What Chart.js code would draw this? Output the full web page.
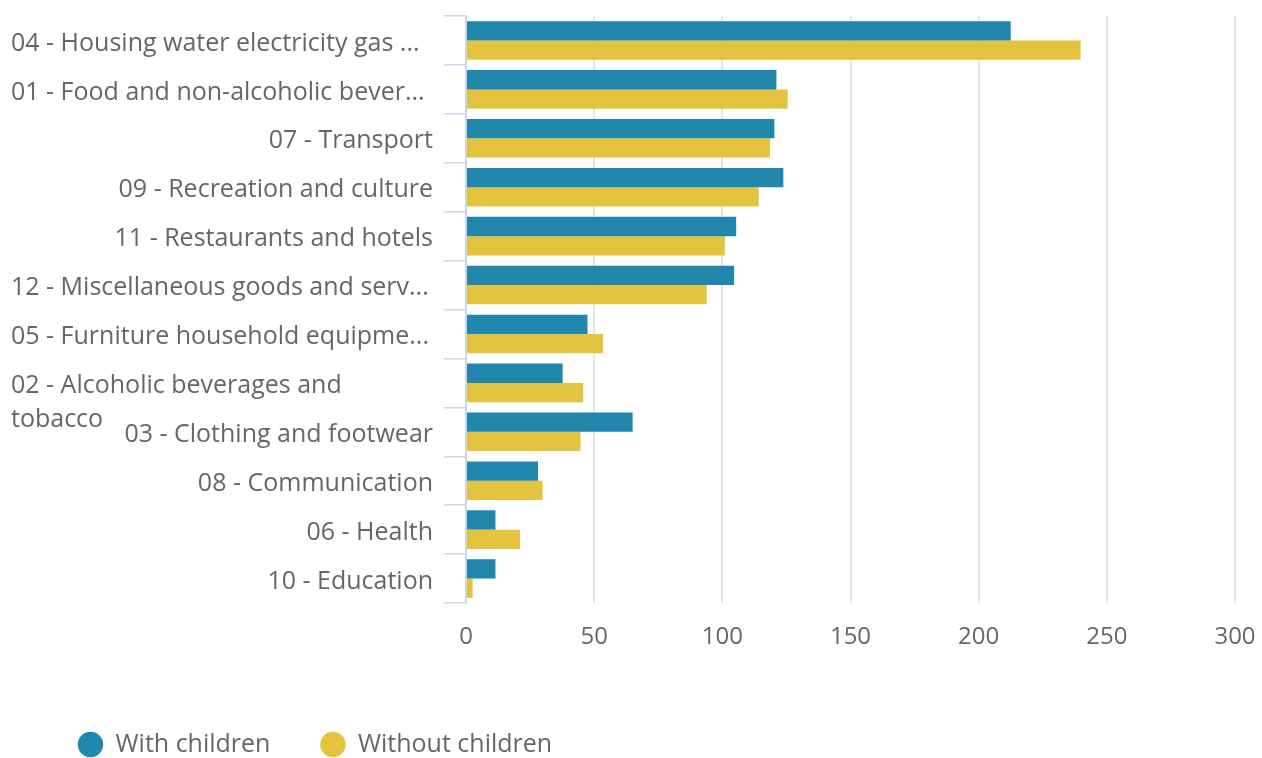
<!DOCTYPE html>
<html>
<head>
<meta charset="utf-8">
<script src="https://cdn.jsdelivr.net/npm/chart.js@4"></script>
<style>
  html, body { margin: 0; padding: 0; background: #fff; overflow: hidden; }
  #wrap { position: relative; width: 1262px; height: 767px; }
</style>
</head>
<body>
<div id="wrap"><canvas id="chart"></canvas></div>
<script>
const categories = [
  '04 - Housing water electricity gas ...',
  '01 - Food and non-alcoholic bever...',
  '07 - Transport',
  '09 - Recreation and culture',
  '11 - Restaurants and hotels',
  '12 - Miscellaneous goods and serv...',
  '05 - Furniture household equipme...',
  ['02 - Alcoholic beverages and', 'tobacco'],
  '03 - Clothing and footwear',
  '08 - Communication',
  '06 - Health',
  '10 - Education',
];
const withChildren    = [212.5, 121.1, 120.3, 123.8, 105.4, 104.6, 47.4, 37.7, 65.0, 28.1, 11.5, 11.5];
const withoutChildren = [239.8, 125.5, 118.6, 114.2, 101.0, 93.9, 53.5, 45.7, 44.7, 29.9, 21.1, 2.6];
const xTicks = [0, 50, 100, 150, 200, 250, 300];

const TEXT = '#666666';
Chart.defaults.font.family = '"Open Sans", sans-serif';
Chart.defaults.color = TEXT;

// category labels at the scale's tick positions; wrapped / truncated ones start at the left edge
const yLabels = {
  id: 'yLabels',
  afterDraw(chart) {
    const { ctx } = chart;
    const y = chart.scales.y;
    ctx.save();
    ctx.font = '25px "Open Sans", sans-serif';
    ctx.fillStyle = TEXT;
    ctx.textBaseline = 'middle';
    categories.forEach((c, i) => {
      const py = y.getPixelForValue(i) + 3;
      const lines = Array.isArray(c) ? c : [c];
      const fromLeft = Array.isArray(c) || c.endsWith('...');
      ctx.textAlign = fromLeft ? 'left' : 'right';
      const px = fromLeft ? 11 : y.right - 33;
      lines.forEach((line, k) => ctx.fillText(line, px, py + k * 34));
    });
    ctx.restore();
  }
};

new Chart(document.getElementById('chart'), {
  type: 'bar',
  data: {
    labels: categories,
    datasets: [
      {
        label: 'With children',
        data: withChildren,
        backgroundColor: 'rgba(24,130,170,0.96)',
        borderWidth: 0,
        categoryPercentage: 0.79,
        barPercentage: 1.0,
      },
      {
        label: 'Without children',
        data: withoutChildren,
        backgroundColor: 'rgba(227,194,55,0.96)',
        borderWidth: 0,
        categoryPercentage: 0.79,
        barPercentage: 1.0,
      },
    ],
  },
  options: {
    indexAxis: 'y',
    responsive: true,
    maintainAspectRatio: false,
    animation: false,
    layout: { autoPadding: false, padding: { top: 16, right: 27, left: 28, bottom: 0 } },
    plugins: {
      tooltip: { enabled: false },
      legend: {
        position: 'bottom',
        align: 'start',
        labels: {
          usePointStyle: true,
          pointStyle: 'circle',
          boxWidth: 25,
          boxHeight: 18,
          padding: 50,
          color: TEXT,
          font: { size: 25 },
        },
      },
    },
    scales: {
      x: {
        min: 0,
        max: 300,
        afterBuildTicks: s => { s.ticks = xTicks.map(v => ({ value: v })); },
        ticks: { color: TEXT, font: { size: 24 }, padding: 20 },
        grid: { color: '#e6e6e6', lineWidth: 2, drawTicks: false },
        border: { display: false },
        afterFit: s => { s.height = 79; s.paddingLeft = 0; s.paddingRight = 0; },
      },
      y: {
        grid: {
          offset: true,
          drawOnChartArea: false,
          drawTicks: true,
          tickLength: 22,
          color: '#ccd6eb',
          lineWidth: 1.5,
        },
        border: { color: '#ccd6eb', width: 2 },
        ticks: { display: false },
        afterFit: s => { s.width = 438; },
      },
    },
  },
  plugins: [yLabels],
});
</script>
</body>
</html>
